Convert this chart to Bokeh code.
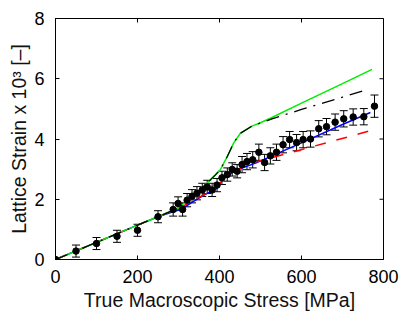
import math
from bokeh.plotting import figure
from bokeh.models import ColumnDataSource, Whisker, TeeHead, FixedTicker, Range1d
from bokeh.embed import file_html
from bokeh.resources import INLINE

# ---- data ----
stress = [0, 50, 100, 150, 200, 250, 287, 299, 310, 321, 333, 345, 358, 370,
          382, 394, 406, 419, 431, 443, 455, 467, 481, 496, 510, 524, 539, 555,
          571, 588, 604, 622, 642, 661, 682, 703, 726, 752, 778]
strain = [0, 0.28, 0.53, 0.77, 0.97, 1.42, 1.66, 1.86, 1.66, 1.97, 2.10, 2.20,
          2.31, 2.41, 2.31, 2.47, 2.71, 2.82, 2.99, 2.93, 3.15, 3.25, 3.31, 3.56,
          3.22, 3.44, 3.56, 3.81, 3.98, 3.88, 3.98, 4.00, 4.34, 4.41, 4.56, 4.67,
          4.73, 4.74, 5.09]
err = [0, 0.2, 0.2, 0.2, 0.2, 0.2,
       0.22, 0.22, 0.22, 0.22, 0.22, 0.22, 0.22, 0.22, 0.22, 0.22, 0.22, 0.22, 0.22, 0.22,
       0.27, 0.27, 0.27, 0.27, 0.27, 0.27, 0.27, 0.27, 0.27, 0.27, 0.27, 0.27, 0.27, 0.27,
       0.27, 0.27, 0.27, 0.27,
       0.37]

green_x = [0, 100, 200, 250, 300, 337, 370, 390, 402, 419, 435, 451, 476, 500, 524, 600, 700, 772]
green_y = [0, 0.57, 1.14, 1.42, 1.71, 2.15, 2.54, 2.81, 2.98, 3.42, 3.88, 4.19, 4.41, 4.54, 4.69, 5.19, 5.84, 6.31]

black_x = [0, 100, 200, 250, 300, 337, 370, 390, 402, 419, 435, 451, 476, 500, 528, 600, 700, 756]
black_y = [0, 0.57, 1.14, 1.42, 1.71, 2.15, 2.54, 2.81, 2.98, 3.42, 3.88, 4.19, 4.40, 4.53, 4.67, 4.98, 5.39, 5.62]

blue_x = [0, 100, 200, 250, 290, 305, 337, 360, 392, 412, 443, 488, 600, 700, 768]
blue_y = [0, 0.57, 1.14, 1.42, 1.60, 1.66, 1.93, 2.12, 2.35, 2.72, 2.98, 3.20, 3.87, 4.48, 4.88]

red_x = [0, 100, 200, 250, 300, 337, 378, 400, 412, 443, 470, 560, 660, 764]
red_y = [0, 0.57, 1.14, 1.42, 1.69, 1.97, 2.26, 2.50, 2.72, 2.98, 3.17, 3.50, 3.87, 4.26]

x_ticks = [0, 200, 400, 600, 800]
y_ticks = [0, 2, 4, 6, 8]
x_label = "True Macroscopic Stress [MPa]"
y_label = "Lattice Strain x 10³ [–]"

FONT = "Liberation Sans"

p = figure(width=407, height=313, output_backend="svg", toolbar_location=None,
           x_range=Range1d(x_ticks[0], x_ticks[-1]),
           y_range=Range1d(y_ticks[0], y_ticks[-1]),
           min_border_left=55, min_border_right=24, min_border_top=18,
           min_border_bottom=53)
p.xgrid.visible = False
p.ygrid.visible = False
p.outline_line_color = "black"
p.outline_line_width = 1
p.background_fill_color = "white"
p.border_fill_color = "white"

# curves
p.line(blue_x, blue_y, line_color="#0000ff", line_width=1.5)
p.line(red_x, red_y, line_color="#ff0000", line_width=1.5, line_dash="11 11")
p.line(green_x, green_y, line_color="#00ee00", line_width=1.5)
p.line(black_x, black_y, line_color="black", line_width=1.3, line_dash="13 7 2 7")

# error bars
lo = [s - e for s, e in zip(strain, err)]
hi = [s + e for s, e in zip(strain, err)]
wsrc = ColumnDataSource(dict(x=stress[1:], lower=lo[1:], upper=hi[1:]))
w = Whisker(base="x", lower="lower", upper="upper", source=wsrc,
            line_color="black", line_width=1,
            upper_head=TeeHead(size=8, line_color="black", line_width=1),
            lower_head=TeeHead(size=8, line_color="black", line_width=1))
p.add_layout(w)
p.scatter(stress, strain, marker="circle", size=6.5, color="black")

# mirrored tick marks on the top and right edges (half is clipped by the frame)
p.scatter(x_ticks, [y_ticks[-1]] * len(x_ticks), marker="dash", angle=math.pi / 2,
          size=8, line_color="black", line_width=1)
p.scatter([x_ticks[-1]] * len(y_ticks), y_ticks, marker="dash",
          size=8, line_color="black", line_width=1)

# main axes
for ax, ticks in ((p.xaxis[0], x_ticks), (p.yaxis[0], y_ticks)):
    ax.ticker = FixedTicker(ticks=ticks)
    ax.major_tick_in = 4
    ax.major_tick_out = 0
    ax.minor_tick_line_color = None
    ax.axis_line_color = "black"
    ax.major_tick_line_color = "black"
    ax.major_label_text_font = FONT
    ax.major_label_text_font_size = "18px"
    ax.major_label_text_color = "black"
    ax.axis_label_text_font = FONT
    ax.axis_label_text_font_size = "19.5px"
    ax.axis_label_text_font_style = "normal"
    ax.axis_label_text_color = "#111111"

p.xaxis.axis_label = x_label
p.yaxis.axis_label = y_label
p.xaxis.major_label_standoff = 10
p.xaxis.axis_label_standoff = 3
p.yaxis.major_label_standoff = 11
p.yaxis.axis_label_standoff = 1

open("out.html", "w").write(file_html(p, INLINE))
